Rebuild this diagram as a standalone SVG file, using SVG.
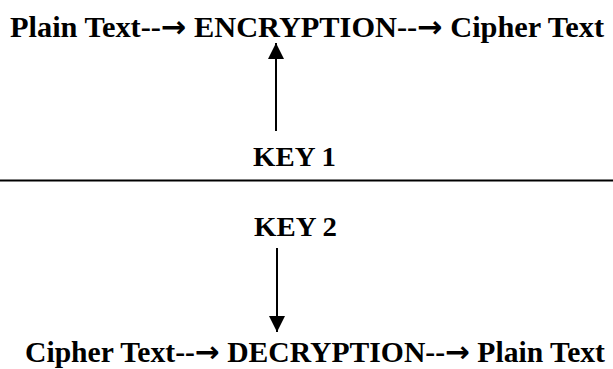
<svg xmlns="http://www.w3.org/2000/svg" width="613" height="369" viewBox="0 0 613 369">
<style>
.t{font-family:"Liberation Serif","Times New Roman",serif;font-weight:bold;fill:#000}
.top{font-size:29.5px}
.bot{font-size:29px}
.key{font-size:27px}
.ar{font-family:"DejaVu Sans",sans-serif;font-weight:bold}
.c{stroke:#000;stroke-width:2;fill:none}
</style>
<defs>
<marker id="ah" viewBox="0 0 16 16" refX="16" refY="8" markerWidth="16" markerHeight="16" markerUnits="userSpaceOnUse" orient="auto">
<path d="M0,0 L16,8 L0,16 Z" fill="#000"/>
</marker>
</defs>
<rect width="613" height="369" fill="#fff"/>
<g id="enc">
<text class="t top" x="10" y="37" textLength="594" lengthAdjust="spacingAndGlyphs">Plain Text--<tspan class="ar">→</tspan> ENCRYPTION--<tspan class="ar">→</tspan> Cipher Text</text>
</g>
<g id="key1">
<text class="t key" x="253" y="166" textLength="83" lengthAdjust="spacingAndGlyphs">KEY 1</text>
</g>
<g id="key2">
<text class="t key" x="254" y="236" textLength="83" lengthAdjust="spacingAndGlyphs">KEY 2</text>
</g>
<g id="dec">
<text class="t bot" x="25" y="362" textLength="580" lengthAdjust="spacingAndGlyphs">Cipher Text--<tspan class="ar">→</tspan> DECRYPTION--<tspan class="ar">→</tspan> Plain Text</text>
</g>
<g id="connectors">
<line x1="0" y1="180.5" x2="613" y2="180.5" stroke="#000" stroke-width="2"/>
<line class="c" x1="276" y1="131" x2="276" y2="43" marker-end="url(#ah)"/>
<line class="c" x1="277" y1="248" x2="277" y2="332" marker-end="url(#ah)"/>
</g>
</svg>
